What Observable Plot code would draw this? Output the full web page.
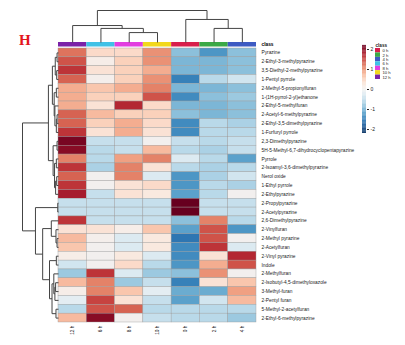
<!DOCTYPE html>
<html><head><meta charset="utf-8">
<script src="https://cdn.jsdelivr.net/npm/d3@7"></script>
<script src="https://cdn.jsdelivr.net/npm/@observablehq/plot@0.6"></script>
<style>
body{margin:0;background:#fff;}
#fig{position:relative;width:405px;height:345px;overflow:hidden;background:#fff;font-family:"Liberation Sans",Arial,sans-serif;}
#fig > div{position:absolute;}
#fig svg{display:block;overflow:visible;}
#title{left:19px;top:32px;font-family:"Liberation Serif",serif;font-weight:bold;font-size:15px;color:#e3161c;}
</style></head><body><div id="fig"><div id="title">H</div></div>
<script>
// ---- data ----
const rowNames = ["Pyrazine","2-Ethyl-3-methylpyrazine","3,5-Diethyl-2-methylpyrazine","1-Pentyl pyrrole",
"2-Methyl-5-propionylfuran","1-(1H-pyrrol-2-yl)ethanone","2-Ethyl-5-methylfuran","2-Acetyl-6-methylpyrazine",
"2-Ethyl-3,5-dimethylpyrazine","1-Furfuryl pyrrole","2,3-Dimethylpyrazine","5H-5-Methyl-6,7-dihydrocyclopentapyrazine",
"Pyrrole","2-Isoamyl-3,6-dimethylpyrazine","Nerol oxide","1-Ethyl pyrrole","2-Ethylpyrazine","2-Propylpyrazine",
"2-Acetylpyrazine","2,6-Dimethylpyrazine","2-Vinylfuran","2-Methyl pyrazine","2-Acetylfuran","2-Vinyl pyrazine",
"Indole","2-Methylfuran","2-Isobutyl-4,5-dimethyloxazole","3-Methyl-furan","2-Pentyl furan","5-Methyl-2-acetylfuran",
"2-Ethyl-6-methylpyrazine"];
const columns = ["12 h","6 h","8 h","10 h","0 h","2 h","4 h"];
const classOrder = ["0 h","2 h","4 h","6 h","8 h","10 h","12 h"];
const classColors = ["#d81f4b","#3aa946","#3d5ac2","#40c1e6","#e23ee0","#f2d81c","#7a22a8"];
const v12h = [1.2,1.4,1.6,1.3,0.8,0.8,0.8,1.3,1.3,1.6,2.1,2.0,1.1,1.6,1.3,1.6,1.8,-0.5,-0.5,1.6,0.3,0.7,0.6,0.1,-0.4,-0.8,0.7,0.1,-0.2,-0.6,0.7];
const v6h  = [0.4,0.1,0.3,0.05,0.6,0.5,0.3,0.7,0.5,0.3,-0.5,-0.6,-0.6,-0.7,0.0,0.0,-0.5,-0.5,-0.5,-0.5,0.3,0.05,0.0,0.0,0.0,1.6,1.1,1.1,1.5,1.4,2.0];
const v8h  = [0.4,0.5,0.5,0.5,0.8,0.5,1.7,0.5,0.8,0.8,-0.5,-0.5,0.9,1.1,1.1,0.3,0.3,-0.5,-0.5,-0.5,0.1,-0.3,-0.3,0.2,0.4,-0.3,-0.8,0.6,0.3,1.3,0.0];
const v10h = [1.0,1.0,0.8,1.0,1.1,1.4,0.4,0.5,0.4,0.3,0.0,0.7,1.1,0.3,-0.3,0.4,0.2,-0.5,-0.5,-0.5,0.6,0.2,0.2,-0.3,-0.6,-0.8,-0.5,-0.2,-0.5,-0.6,-0.5];
const v0h  = [-0.9,-1.0,-1.0,-1.5,-1.0,-1.4,-1.0,-0.9,-1.4,-1.4,-0.5,-0.6,-0.3,-0.6,-1.3,-1.3,-1.2,2.3,2.3,-0.9,-1.2,-1.6,-1.4,-1.4,-1.3,-0.9,-1.5,-1.1,-1.2,-0.6,-0.6];
const v2h  = [-1.3,-1.0,-1.0,-0.6,-1.0,-0.9,-1.0,-1.0,-0.6,-0.6,-0.6,-0.7,-0.6,-0.7,-0.7,-0.6,-0.6,-0.5,-0.5,1.1,1.4,1.4,1.6,0.3,0.8,1.0,0.3,-1.1,-0.4,-0.6,-0.6];
const v4h  = [-0.9,-0.9,-0.9,-0.4,-0.9,-0.8,-0.9,-0.9,-0.7,-0.6,-0.5,-0.5,-1.2,-0.6,-0.4,-0.7,0.0,-0.5,-0.5,-0.6,-1.3,0.0,-0.3,1.7,1.4,0.0,0.6,0.9,0.7,-0.6,-0.8];
const colValues = [v12h, v6h, v8h, v10h, v0h, v2h, v4h];
const colorTicks = [-2,-1,0,1,2];
// linkage: [childA, childB, height]; ids >= n are earlier merges
const rowLinkage = [[0,1,0.04],[2,3,0.05],[31,32,0.09],[4,5,0.06],[7,8,0.04],[35,9,0.06],[6,36,0.10],[34,37,0.12],[33,38,0.17],
[10,11,0.04],[12,13,0.06],[14,15,0.05],[42,16,0.08],[41,43,0.11],[40,44,0.15],[39,45,0.28],
[17,18,0.02],[21,22,0.04],[20,48,0.07],[19,49,0.20],[23,24,0.06],[26,27,0.08],[52,28,0.10],[25,53,0.13],[29,30,0.07],
[54,55,0.18],[51,56,0.25],[50,57,0.44],[47,58,0.64],[46,59,1.00]];
const colLinkage = [[2,3,0.31],[1,7,0.44],[0,8,0.53],[5,6,0.44],[4,10,0.72],[9,11,1.0]];

// ---- helpers ----
function dendroSegments(linkage, n) {
  const pos = [], ht = [], segs = [];
  for (let i = 0; i < n; i++) { pos[i] = i + 0.5; ht[i] = 0; }
  linkage.forEach(([a, b, h], k) => {
    segs.push({p1: pos[a], h1: ht[a], p2: pos[a], h2: h});
    segs.push({p1: pos[b], h1: ht[b], p2: pos[b], h2: h});
    segs.push({p1: pos[a], h1: h, p2: pos[b], h2: h});
    pos[n + k] = (pos[a] + pos[b]) / 2; ht[n + k] = h;
  });
  return segs;
}
const fig = document.getElementById("fig");
function place(svg, left, top) {
  const d = document.createElement("div");
  d.style.left = left + "px"; d.style.top = top + "px";
  d.appendChild(svg); fig.appendChild(d);
}
const font = "Liberation Sans, Arial, sans-serif";
const heatColor = {type: "linear", scheme: "rdbu", reverse: true, domain: [-2.2, 2.2], clamp: true};
const classColor = {domain: classOrder, range: classColors};

// ---- heatmap ----
const cells = [];
columns.forEach((c, j) => colValues[j].forEach((v, i) => cells.push({row: rowNames[i], col: c, value: v})));
place(Plot.plot({
  width: 345, height: 297, marginLeft: 0, marginTop: 0, marginRight: 147, marginBottom: 23,
  style: {fontSize: "4.8px", fontFamily: font, background: "transparent", color: "#222"},
  x: {domain: columns, padding: 0, round: false, tickSize: 0, tickRotate: -90, tickPadding: 3, label: null},
  y: {domain: rowNames, padding: 0, round: false, axis: "right", tickSize: 0, tickPadding: 5, label: null},
  color: heatColor,
  marks: [Plot.cell(cells, {x: "col", y: "row", fill: "value", stroke: "#9a9a9a", strokeWidth: 0.4})]
}), 58, 48);

// ---- class strip ----
place(Plot.plot({
  width: 240, height: 4.5, marginLeft: 0, marginTop: 0, marginRight: 42, marginBottom: 0,
  style: {fontSize: "4.8px", fontFamily: font, fontWeight: "bold", background: "transparent"},
  x: {domain: columns, padding: 0, round: false, axis: null},
  y: {domain: ["class"], padding: 0, round: false, axis: "right", tickSize: 0, tickPadding: 5, label: null},
  color: classColor,
  marks: [Plot.cell(columns, {x: d => d, y: () => "class", fill: d => d})]
}), 58, 42);

// ---- top dendrogram ----
place(Plot.plot({
  width: 198, height: 34, marginLeft: 0, marginRight: 0, marginTop: 2, marginBottom: 0,
  style: {background: "transparent"},
  x: {domain: [0, columns.length], axis: null},
  y: {domain: [0, 1], axis: null},
  marks: [Plot.link(dendroSegments(colLinkage, columns.length), {x1: "p1", y1: "h1", x2: "p2", y2: "h2", stroke: "#444", strokeWidth: 1})]
}), 58, 8);

// ---- left dendrogram ----
place(Plot.plot({
  width: 58, height: 274, marginLeft: 22, marginRight: 0, marginTop: 0, marginBottom: 0,
  style: {background: "transparent"},
  x: {domain: [1, 0], axis: null},
  y: {domain: [rowNames.length, 0], axis: null},
  marks: [Plot.link(dendroSegments(rowLinkage, rowNames.length), {x1: "h1", y1: "p1", x2: "h2", y2: "p2", stroke: "#444", strokeWidth: 1})]
}), 0, 48);

// ---- colour bar ----
const ramp = d3.range(-2.2, 2.2, 0.04);
place(Plot.plot({
  width: 20, height: 88, marginLeft: 0, marginRight: 16, marginTop: 0, marginBottom: 0,
  style: {fontSize: "5px", fontFamily: font, background: "transparent", color: "#222"},
  x: {domain: [0, 1], axis: null},
  y: {domain: [-2.2, 2.2], axis: "right", ticks: colorTicks, tickSize: 2, tickPadding: 2, label: null, tickFormat: d => String(d)},
  color: heatColor,
  marks: [Plot.rect(ramp, {x1: 0, x2: 1, y1: d => d, y2: d => d + 0.045, fill: d => d})]
}), 362, 45);

// ---- class legend ----
place(Plot.plot({
  width: 22, height: 38, marginLeft: 0, marginRight: 17, marginTop: 7, marginBottom: 0,
  style: {fontSize: "4.2px", fontFamily: font, background: "transparent", color: "#222"},
  x: {domain: ["c"], padding: 0, round: false, axis: null},
  y: {domain: classOrder, padding: 0, round: false, axis: "right", tickSize: 0, tickPadding: 2, label: null},
  color: classColor,
  marks: [
    Plot.cell(classOrder, {x: () => "c", y: d => d, fill: d => d}),
    Plot.text(["class"], {frameAnchor: "top-left", dy: -4.5, textAnchor: "start", fontWeight: "bold", fontSize: 4.6})
  ]
}), 375, 41);
</script></body></html>
